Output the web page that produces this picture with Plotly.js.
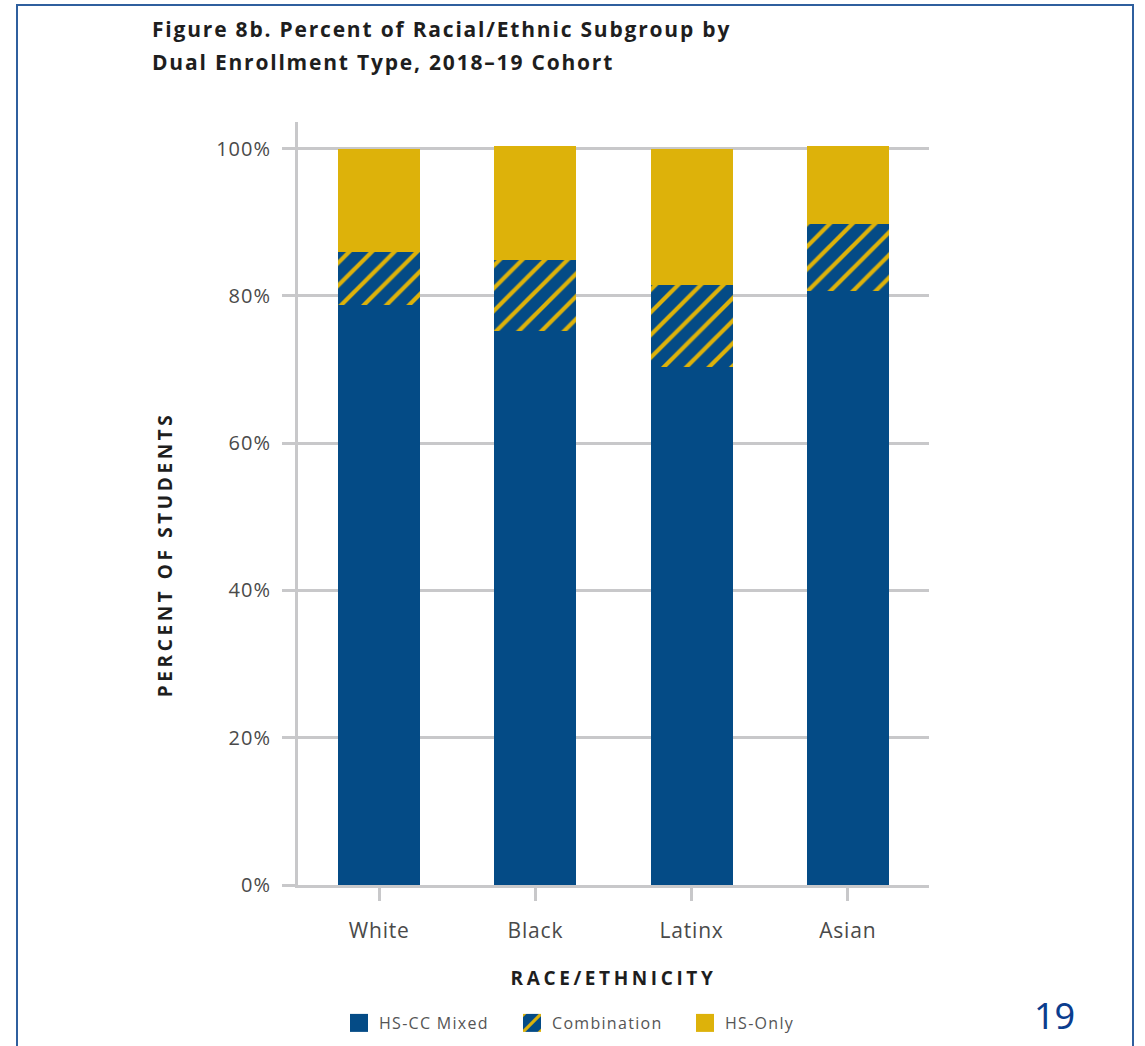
<!DOCTYPE html>
<html>
<head>
<meta charset="utf-8">
<script src="https://cdn.plot.ly/plotly-3.0.1.min.js"></script>
<style>
  html, body { margin: 0; padding: 0; background: #ffffff; }
  #wrap { position: relative; width: 1145px; height: 1046px; overflow: hidden; }
  #chart { width: 1145px; height: 1046px; }
  #frame { position: absolute; left: 16px; top: 4px; width: 1114px; height: 1060px;
           border: 2px solid #2f5f9e; border-bottom: none; pointer-events: none; }
  .xtitle { letter-spacing: 3.6px; }
  .legendtext { letter-spacing: 1.3px; }
  .xtick text { letter-spacing: 0.8px; }
  .ytick text { letter-spacing: 1px; }
</style>
</head>
<body>
<div id="wrap"><div id="chart"></div><div id="frame"></div></div>
<script>
// Share of each racial/ethnic subgroup by dual enrollment type (percent)
const groups      = ['White', 'Black', 'Latinx', 'Asian'];
const hsccMixed   = [78.8, 75.2, 70.3, 80.6];
const combination = [7.2, 9.6, 11.2, 9.1];
const hsOnly      = [14.0, 15.5, 18.5, 10.6];
const seriesNames = ['HS-CC Mixed', 'Combination', 'HS-Only'];
const yTicks      = [0, 20, 40, 60, 80, 100];
const yTickText   = yTicks.map(v => v + '%');

const BLUE = '#044b86';
const GOLD = '#ddb20a';
const GRID = '#c8c8ca';
const FONT = 'Open Sans, sans-serif';

const traces = [
  { type: 'bar', name: seriesNames[0], x: groups, y: hsccMixed,
    marker: { color: BLUE, line: { width: 0 } } },
  { type: 'bar', name: seriesNames[1], x: groups, y: combination,
    marker: { color: BLUE, line: { width: 0 },
              pattern: { shape: '/', fgcolor: GOLD, bgcolor: BLUE, fgopacity: 1,
                         size: 16, solidity: 0.26 } } },
  { type: 'bar', name: seriesNames[2], x: groups, y: hsOnly,
    marker: { color: GOLD, line: { width: 0 } } }
];

// plot area spans x 298..929 px and y 122..885 px
const px = v => (v - 298) / 631;
const py = v => (885 - v) / 763;

const headingFont = { family: FONT, size: 21, weight: 'bold', color: '#1e1e1e' };

const layout = {
  width: 1145, height: 1046,
  margin: { l: 298, r: 216, t: 122, b: 161, pad: 0, autoexpand: false },
  paper_bgcolor: '#ffffff', plot_bgcolor: '#ffffff',
  barmode: 'stack', bargap: 0.475,
  font: { family: FONT, color: '#555555' },
  showlegend: true,
  legend: {
    orientation: 'h', traceorder: 'normal',
    x: px(339), xanchor: 'left', y: py(1023), yanchor: 'middle',
    entrywidth: 128, entrywidthmode: 'pixels',
    font: { family: FONT, size: 16, color: '#555555' }
  },
  xaxis: {
    type: 'category', range: [-0.52, 3.52], automargin: false,
    showline: true, linecolor: GRID, linewidth: 3,
    ticks: 'outside', ticklen: 13, tickwidth: 3, tickcolor: GRID,
    ticklabelstandoff: 12,
    tickfont: { family: FONT, size: 21, color: '#4a4a4a' },
    showgrid: false, zeroline: false,
    title: { text: 'RACE/ETHNICITY', standoff: 29,
             font: { family: FONT, size: 19, weight: 'bold', color: '#1e1e1e' } }
  },
  yaxis: {
    range: [0, 103.6], automargin: false,
    tickmode: 'array', tickvals: yTicks, ticktext: yTickText,
    showline: true, linecolor: GRID, linewidth: 3,
    ticks: 'outside', ticklen: 13, tickwidth: 3, tickcolor: GRID,
    ticklabelstandoff: 7,
    tickfont: { family: FONT, size: 20, color: '#4a4a4a' },
    showgrid: true, gridcolor: GRID, gridwidth: 3, zeroline: false
  },
  annotations: [
    { text: 'Figure 8b. Percent of Racial/Ethnic Subgroup by', xref: 'paper', yref: 'paper',
      x: px(150), y: py(29), xanchor: 'left', yanchor: 'middle', showarrow: false,
      font: headingFont },
    { text: 'Dual Enrollment Type, 2018–19 Cohort', xref: 'paper', yref: 'paper',
      x: px(150), y: py(62), xanchor: 'left', yanchor: 'middle', showarrow: false,
      font: headingFont },
    { text: 'PERCENT OF STUDENTS', xref: 'paper', yref: 'paper', textangle: -90,
      x: px(165), y: py(555), xanchor: 'center', yanchor: 'middle', showarrow: false,
      font: { family: FONT, size: 19, weight: 'bold', color: '#1e1e1e' } },
    { text: '19', xref: 'paper', yref: 'paper',
      x: px(1054), y: py(1015), xanchor: 'center', yanchor: 'middle', showarrow: false,
      font: { family: 'Noto Sans, sans-serif', size: 36, color: '#0b3d8e' } }
  ]
};

Plotly.newPlot('chart', traces, layout, { displayModeBar: false, staticPlot: true }).then(gd => {
  // enlarge the legend swatches to match the square markers
  gd.querySelectorAll('.legendpoints path').forEach(p => {
    const t = p.getAttribute('transform') || '';
    p.setAttribute('transform', t + ' scale(1.5)');
  });
  // wider tracking for the heading lines (kept left-aligned) and the vertical axis label
  gd.querySelectorAll('.annotation-text').forEach(t => {
    const s = t.textContent;
    if (s === '19') return;
    if (s === 'PERCENT OF STUDENTS') { t.style.letterSpacing = '3.6px'; return; }
    const before = t.getBBox().x;
    t.style.letterSpacing = '1.8px';
    const after = t.getBBox().x;
    t.setAttribute('x', parseFloat(t.getAttribute('x')) + (before - after));
  });
});
</script>
</body>
</html>
